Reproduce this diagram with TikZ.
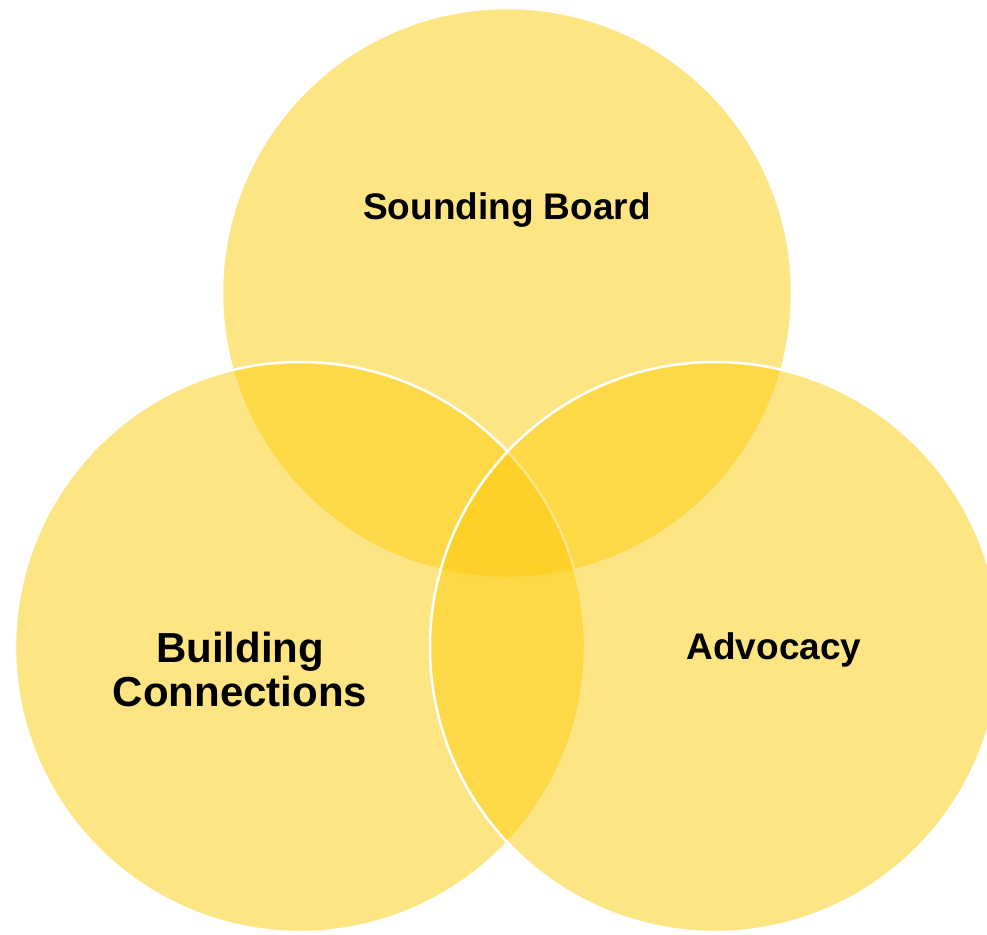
\documentclass[tikz,border=0pt]{standalone}
\usepackage{fontspec}
\setmainfont{Liberation Sans}
\definecolor{venn}{RGB}{253,203,10}
\begin{document}
\begin{tikzpicture}[x=1pt,y=-1pt,
  vcircle/.style={fill=venn,fill opacity=0.5,draw=white,line width=2.5pt},
  lbl/.style={font=\bfseries\fontsize{37}{43}\selectfont,text=black,align=center,inner sep=0pt},
  biglbl/.style={font=\bfseries\fontsize{42}{44}\selectfont,text=black,align=center,inner sep=0pt}]
\useasboundingbox (0,0) rectangle (987,934);
\clip (0,0) rectangle (987,934);
\draw[vcircle] (507,293) circle[radius=285];
\draw[vcircle] (300,647) circle[radius=285];
\draw[vcircle] (715,647) circle[radius=285];
\node[lbl] (sb) at (507,210) {Sounding Board};
\node[lbl] (ad) at (774,650) {Advocacy};
\node[biglbl] (bc) at (240,669) {Building\\Connections};
\end{tikzpicture}
\end{document}
